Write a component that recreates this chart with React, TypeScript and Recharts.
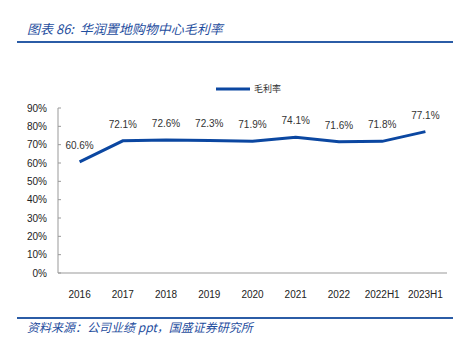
import React from 'react';
import { LineChart, Line, XAxis, YAxis, LabelList } from 'recharts';

const categories = ['2016', '2017', '2018', '2019', '2020', '2021', '2022', '2022H1', '2023H1'];
const grossMargin = [60.6, 72.1, 72.6, 72.3, 71.9, 74.1, 71.6, 71.8, 77.1];
const yTicks = [0, 10, 20, 30, 40, 50, 60, 70, 80, 90];
const boundaryTicks = [0, 1, 2, 3, 4, 5, 6, 7, 8, 9];

const data = categories.map((name, i) => ({ name, value: grossMargin[i] }));

const BLUE = '#0b47a1';
const TEXT_FONT = '"Liberation Sans", Arial, sans-serif';

const renderLabel = (props: any) => {
  const { x, y, value } = props;
  return (
    <text x={x} y={y - 13} textAnchor="middle" fontSize={10} fill="#333" fontFamily={TEXT_FONT}>
      {`${Number(value).toFixed(1)}%`}
    </text>
  );
};

export default function App() {
  return (
    <div style={{ position: 'fixed', left: 0, top: 0, width: 470, height: 353, background: '#fff' }}>
      <div
        style={{
          position: 'absolute',
          left: 27,
          top: 19,
          fontSize: 13,
          fontStyle: 'italic',
          color: '#1f4e9e',
          fontFamily: '"Noto Sans CJK SC", sans-serif',
        }}
      >
        图表 86:&nbsp; 华润置地购物中心毛利率
      </div>
      <div style={{ position: 'absolute', left: 17, top: 41, width: 436, height: 2, background: '#2b5ca6' }} />
      <div style={{ position: 'absolute', left: 216, top: 82, display: 'flex', alignItems: 'center' }}>
        <svg width={34} height={6}>
          <line x1={0} y1={3} x2={34} y2={3} stroke={BLUE} strokeWidth={3} />
        </svg>
        <span style={{ fontSize: 9, color: '#333', marginLeft: 4, fontFamily: '"Noto Sans CJK SC", sans-serif' }}>
          毛利率
        </span>
      </div>
      <div style={{ position: 'absolute', left: 0, top: 0 }}>
        <LineChart
          width={470}
          height={353}
          data={data}
          margin={{ top: 108, right: 23, bottom: 50, left: 0 }}
          style={{ fontFamily: TEXT_FONT }}
        >
          <XAxis
            dataKey="name"
            height={30}
            padding={{ left: 21.6, right: 21.6 }}
            tick={{ fill: '#222', fontSize: 10 }}
            tickLine={false}
            axisLine={{ stroke: '#999' }}
            tickMargin={12}
            interval={0}
          />
          {/* boundary ticks between categories */}
          <XAxis
            xAxisId="edges"
            type="number"
            domain={[0, 9]}
            ticks={boundaryTicks}
            height={0}
            axisLine={false}
            tick={false}
            tickLine={{ stroke: '#999' }}
            tickSize={-4}
          />
          <YAxis
            width={58}
            domain={[0, 90]}
            ticks={yTicks}
            tickFormatter={(v) => `${v}%`}
            tick={{ fill: '#222', fontSize: 10 }}
            tickLine={{ stroke: '#999' }}
            tickSize={-3}
            axisLine={{ stroke: '#999' }}
            tickMargin={14}
          />
          <Line
            type="linear"
            dataKey="value"
            stroke={BLUE}
            strokeWidth={3}
            dot={false}
            isAnimationActive={false}
          >
            <LabelList dataKey="value" content={renderLabel} />
          </Line>
        </LineChart>
      </div>
      <div style={{ position: 'absolute', left: 17, top: 317, width: 436, height: 2, background: '#2b5ca6' }} />
      <div
        style={{
          position: 'absolute',
          left: 27,
          top: 318,
          fontSize: 12,
          fontStyle: 'italic',
          color: '#1f4e9e',
          fontFamily: '"Noto Sans CJK SC", sans-serif',
        }}
      >
        资料来源：公司业绩 ppt，国盛证券研究所
      </div>
    </div>
  );
}
